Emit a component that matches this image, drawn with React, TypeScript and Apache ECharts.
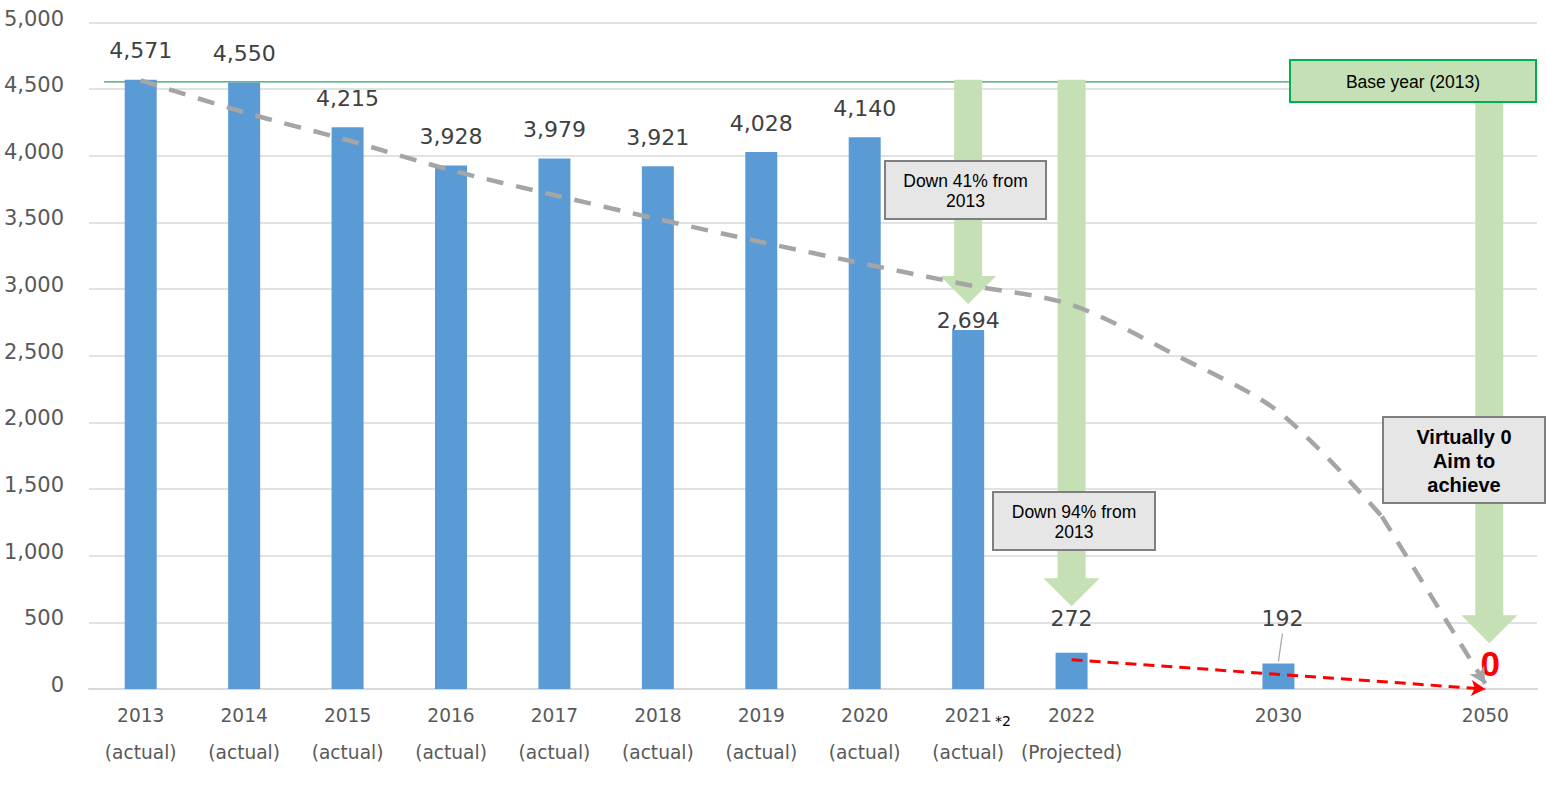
import React, { useEffect, useRef } from "react";
import * as echarts from "echarts";

const categories = [
  "2013\n(actual)", "2014\n(actual)", "2015\n(actual)", "2016\n(actual)", "2017\n(actual)",
  "2018\n(actual)", "2019\n(actual)", "2020\n(actual)", "2021\n(actual)", "2022\n(Projected)",
  " ", "2030", "  ", "2050",
];
const barValues = [4571, 4550, 4215, 3928, 3979, 3921, 4028, 4140, 2694, 272, null, 192, null, 0];
const trendValues = [4566, 4326, 4117, 3892, 3705, 3525, 3353, 3189, 3031, 2882, 2507, 2081, 1295, null];
const trendEnd = [[12, 1295], [13, 40]];
const redProjection = [[9, 220], [13, 0]];
// [category index, from value, to value]
const greenArrows = [[8, 4571, 2889], [9, 4571, 621], [13, 4571, 344]];
const baseYearValue = 4555;
const yTicks = { min: 0, max: 5000, interval: 500 };

const FONT = "DejaVu Sans";
const ARIAL = "Liberation Sans";

export default function App() {
  const ref = useRef<HTMLDivElement>(null);
  useEffect(() => {
    if (!ref.current) return;
    const chart = echarts.init(ref.current, null, { renderer: "svg" });

    const barData = barValues.map((v, i) => {
      if (v === null) return null;
      const item: any = { value: v };
      if (i === 8) item.label = { distance: -2 };
      if (i === 9) item.label = { distance: 23 };
      if (i === 11) item.label = { distance: 34, offset: [4, 0] };
      if (v === 0)
        item.label = {
          color: "#ff0000", fontSize: 35, fontWeight: "bold", fontFamily: ARIAL,
          distance: 8, offset: [5, 0],
        };
      return item;
    });

    const option: any = {
      animation: false,
      grid: { left: 89, right: 9, top: 22.5, bottom: 118 },
      xAxis: {
        type: "category",
        data: categories,
        axisTick: { show: false },
        axisLine: { lineStyle: { color: "#d9d9d9", width: 2 } },
        axisLabel: {
          interval: 0, fontSize: 18.6, color: "#595959", fontFamily: FONT,
          lineHeight: 37, margin: 8,
        },
      },
      yAxis: {
        type: "value",
        min: yTicks.min, max: yTicks.max, interval: yTicks.interval,
        axisLine: { show: false },
        axisTick: { show: false },
        splitLine: { lineStyle: { color: "#d9d9d9", width: 1.5 } },
        axisLabel: {
          fontSize: 21, color: "#595959", fontFamily: FONT, margin: 25,
          verticalAlign: "bottom", lineHeight: 8,
          formatter: (v: number) => v.toLocaleString("en-US"),
        },
      },
      series: [
        {
          type: "bar",
          data: barData,
          barWidth: 32,
          itemStyle: { color: "#5b9bd5" },
          z: 2,
          label: {
            show: true, position: "top", distance: 18, color: "#404040",
            fontSize: 22, fontFamily: FONT,
            formatter: (p: any) => Number(p.value).toLocaleString("en-US"),
          },
        },
        {
          type: "custom",
          z: 3,
          data: greenArrows,
          encode: { x: 0, y: [1, 2] },
          renderItem: (params: any, api: any) => {
            const idx = api.value(0);
            const top = api.coord([idx, api.value(1)]);
            const tip = api.coord([idx, api.value(2)]);
            const cx = top[0] + (idx === 13 ? 4 : 0);
            const sw = 14, hw = 28, hh = 28;
            const ty = top[1], py = tip[1];
            return {
              type: "polygon",
              shape: {
                points: [
                  [cx - sw, ty], [cx + sw, ty], [cx + sw, py - hh], [cx + hw, py - hh],
                  [cx, py], [cx - hw, py - hh], [cx - sw, py - hh],
                ],
              },
              style: { fill: "#c5e0b4" },
            };
          },
        },
        {
          type: "line",
          z: 4,
          data: trendValues,
          smooth: 0.3,
          symbol: "none",
          lineStyle: { color: "#a5a5a5", width: 4.5, type: [17, 13] },
          markLine: {
            silent: true,
            symbol: ["none", "arrow"],
            symbolSize: [13, 16],
            label: { show: false },
            lineStyle: { color: "#a5a5a5", width: 4.5, type: [17, 13] },
            data: [[{ coord: trendEnd[0] }, { coord: trendEnd[1] }]],
          },
        },
        {
          type: "line",
          z: 5,
          data: [],
          markLine: {
            silent: true,
            symbol: ["none", "arrow"],
            symbolSize: [12, 14],
            label: { show: false },
            lineStyle: { color: "#ff0000", width: 3, type: [11, 7] },
            data: [[{ coord: redProjection[0] }, { coord: redProjection[1] }]],
          },
        },
      ],
    };
    chart.setOption(option);

    const baseY = chart.convertToPixel({ yAxisIndex: 0 }, baseYearValue) as number;
    const p192 = chart.convertToPixel({ gridIndex: 0 }, [11, 192]) as number[];

    const box = (id: string, x: number, y: number, w: number, h: number, text: string, opts: any = {}) => ({
      type: "group",
      id,
      z: 100,
      children: [
        {
          type: "rect",
          z: 100,
          shape: { x, y, width: w, height: h },
          style: { fill: opts.fill || "#e6e6e6", stroke: opts.stroke || "#7f7f7f", lineWidth: 2 },
        },
        {
          type: "text",
          z: 101,
          x: x + w / 2,
          y: y + h / 2 + 1,
          style: {
            text,
            fill: "#000",
            font: `${opts.bold ? "bold " : ""}${opts.size || 17.5}px "${ARIAL}"`,
            align: "center",
            verticalAlign: "middle",
            lineHeight: opts.lh || 20,
          },
        },
      ],
    });

    chart.setOption({
      graphic: [
        {
          type: "line", id: "baseline", z: 1,
          shape: { x1: 104, y1: baseY, x2: 1290, y2: baseY },
          style: { stroke: "#2ea35a", lineWidth: 1.2 },
        },
        {
          type: "line", id: "leader192", z: 100,
          shape: { x1: p192[0] + 4, y1: p192[1] - 30, x2: p192[0], y2: p192[1] - 2 },
          style: { stroke: "#a5a5a5", lineWidth: 1.2 },
        },
        {
          type: "text", id: "note2", z: 100, x: 995, y: 714,
          style: { text: "*2", fill: "#000", font: `14px "${FONT}"` },
        },
        box("b41", 885, 161, 161, 58, "Down 41% from\n2013"),
        box("b94", 993, 492, 162, 58, "Down 94% from\n2013"),
        box("bv0", 1383, 417, 162, 86, "Virtually 0\nAim to\nachieve", { bold: true, size: 20, lh: 24 }),
        box("bbase", 1290, 60, 246, 42, "Base year (2013)", { fill: "#c5e0b4", stroke: "#00b050" }),
      ],
    });

    return () => chart.dispose();
  }, []);

  return <div ref={ref} style={{ width: 1546, height: 807, position: "absolute", left: 0, top: 0 }} />;
}
